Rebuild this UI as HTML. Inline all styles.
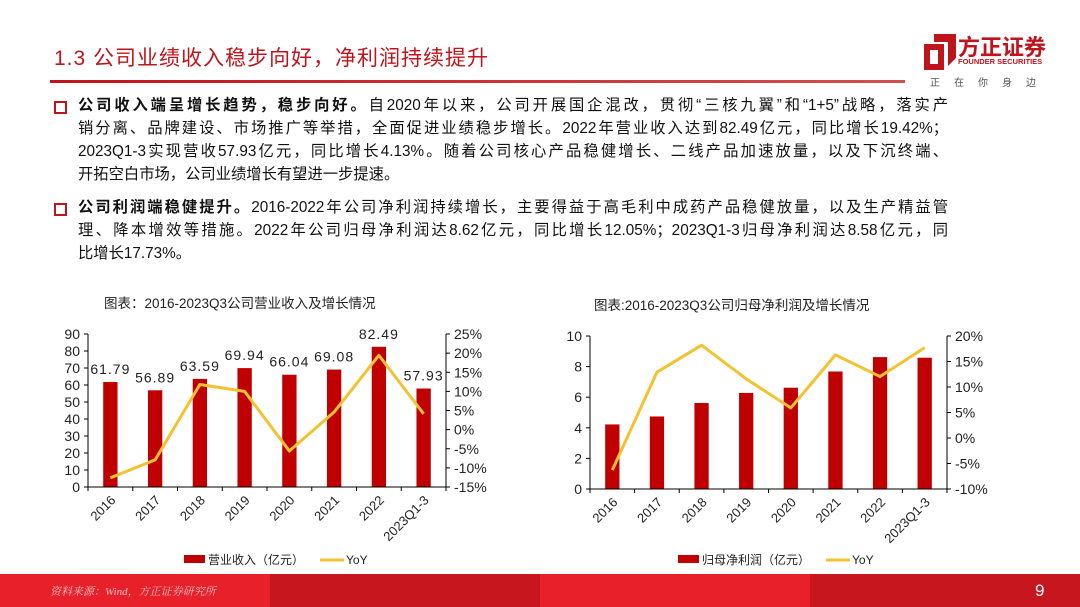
<!DOCTYPE html>
<html><head><meta charset="utf-8"><style>
body{margin:0;width:1080px;height:607px;background:#fff;position:relative;overflow:hidden;font-family:"Liberation Sans","Noto Sans CJK SC",sans-serif;}
.abs{position:absolute}
.title{left:54px;top:42px;font-size:21px;color:#c0141c;letter-spacing:1px}
.para{left:78px;font-size:15.3px;line-height:23px;color:#111;width:870px}
.para b{font-weight:bold}
.ln{display:block;white-space:nowrap;text-align:justify;text-align-last:justify;width:870px}
.ln.last{text-align-last:left}
.sq{width:9px;height:9px;border:2px solid #c0141c;left:54px}
</style></head><body>
<div class="abs title">1.3 公司业绩收入稳步向好，净利润持续提升</div>
<div class="abs" style="left:50px;top:80px;width:855px;height:3px;background:linear-gradient(90deg,#c0141c,#d05050)"></div>
<div class="abs" style="left:918px;top:28px;width:140px;height:70px">
<svg width="40" height="40" style="position:absolute;left:2px;top:4px"><path d="M14 2 H36 V26 L28 34 V10 H14Z M4 12 H24 V38 H4Z M10 18 V32 H18 V18Z" fill="#c0141c"/></svg>
<div class="abs" style="left:40px;top:2px;font-size:22px;font-weight:bold;color:#c0141c;white-space:nowrap">方正证券</div>
<div class="abs" style="left:40px;top:29px;font-size:7.5px;font-weight:bold;color:#c0141c;white-space:nowrap">FOUNDER SECURITIES</div>
<div class="abs" style="left:12px;top:46px;font-size:10px;color:#555;letter-spacing:14px;white-space:nowrap">正在你身边</div>
</div>
<div class="abs sq" style="top:101px"></div>
<div class="abs para" style="top:94px">
<span class="ln"><b>公司收入端呈增长趋势，稳步向好。</b>自2020年以来，公司开展国企混改，贯彻“三核九翼”和“1+5”战略，落实产</span>
<span class="ln">销分离、品牌建设、市场推广等举措，全面促进业绩稳步增长。2022年营业收入达到82.49亿元，同比增长19.42%；</span>
<span class="ln">2023Q1-3实现营收57.93亿元，同比增长4.13%。随着公司核心产品稳健增长、二线产品加速放量，以及下沉终端、</span>
<span class="ln last">开拓空白市场，公司业绩增长有望进一步提速。</span></div>
<div class="abs sq" style="top:203px"></div>
<div class="abs para" style="top:196px">
<span class="ln"><b>公司利润端稳健提升。</b>2016-2022年公司净利润持续增长，主要得益于高毛利中成药产品稳健放量，以及生产精益管</span>
<span class="ln">理、降本增效等措施。2022年公司归母净利润达8.62亿元，同比增长12.05%；2023Q1-3归母净利润达8.58亿元，同</span>
<span class="ln last">比增长17.73%。</span></div>
<svg class="abs" style="left:0;top:0" width="1080" height="607" id="charts"></svg>
<div class="abs" style="left:0;top:574px;width:1080px;height:33px;background:linear-gradient(90deg,#e8202a 0 25%,#c8161e 25% 50%,#e8202a 50% 75%,#c8161e 75%)"></div>
<div class="abs" style="left:50px;top:583px;font-size:11px;font-style:italic;color:#f3c0c0;font-family:'Liberation Serif','Noto Serif CJK SC',serif">资料来源：Wind，方正证券研究所</div>
<div class="abs" style="left:1035px;top:581px;font-size:17px;color:#fff">9</div>
<script>
const cats=["2016","2017","2018","2019","2020","2021","2022","2023Q1-3"];
const revenue=[61.79,56.89,63.59,69.94,66.04,69.08,82.49,57.93];
const revYoY=[-12.6,-7.9,11.8,10.0,-5.6,4.6,19.42,4.13];
const profit=[4.22,4.74,5.62,6.28,6.62,7.68,8.62,8.58];
const profYoY=[-6.3,12.9,18.2,11.6,5.9,16.3,12.05,17.73];
const revTicks=[0,10,20,30,40,50,60,70,80,90];
const revPctTicks=[-15,-10,-5,0,5,10,15,20,25];
const profTicks=[0,2,4,6,8,10];
const profPctTicks=[-10,-5,0,5,10,15,20];
const svg=document.getElementById('charts');
const NS='http://www.w3.org/2000/svg';
function mk(t,a,txt){const e=document.createElementNS(NS,t);for(const k in a)e.setAttribute(k,a[k]);if(txt!==undefined)e.textContent=txt;svg.appendChild(e);return e;}
function chart(o){
 const {x0,x1,y0,y1,lmin,lmax,rmin,rmax,bars,line,lt,rt,labels,title,tx,legend,lx}=o;
 const n=cats.length,bw=(x1-x0)/n;
 const yl=v=>y0-(v-lmin)/(lmax-lmin)*(y0-y1);
 const yr=v=>y0-(v-rmin)/(rmax-rmin)*(y0-y1);
 const xc=i=>x0+bw*(i+0.5);
 let t=mk('text',{x:tx,y:y1-26,'font-size':13.5,fill:'#222','font-family':'Liberation Sans,Noto Sans CJK SC,sans-serif'},title);
 
 bars.forEach((v,i)=>{const r=mk('rect',{x:xc(i)-bw*0.16,y:yl(v),width:bw*0.32,height:y0-yl(v),fill:'#c00000'});
  
  if(labels){const l=mk('text',{x:xc(i),y:yl(v)-8,'font-size':14,'text-anchor':'middle',fill:'#222','letter-spacing':'1'},v.toFixed(2));
   }});
 mk('line',{x1:x0,y1:y0,x2:x1,y2:y0,stroke:'#000'});
 mk('line',{x1:x0,y1:y1,x2:x0,y2:y0,stroke:'#000'});
 mk('line',{x1:x1,y1:y1,x2:x1,y2:y0,stroke:'#000'});
 for(let i=0;i<=n;i++)mk('line',{x1:x0+bw*i,y1:y0,x2:x0+bw*i,y2:y0+4,stroke:'#000'});
 lt.forEach(v=>{mk('line',{x1:x0-4,y1:yl(v),x2:x0,y2:yl(v),stroke:'#000'});
  const e=mk('text',{x:x0-8,y:yl(v)+5,'font-size':14,'text-anchor':'end',fill:'#222'},v);});
 rt.forEach(v=>{mk('line',{x1:x1,y1:yr(v),x2:x1+4,y2:yr(v),stroke:'#000'});
  const e=mk('text',{x:x1+8,y:yr(v)+5,'font-size':14,fill:'#222'},v+'%');});
 cats.forEach((c,i)=>{const e=mk('text',{x:xc(i)+6,y:y0+14,'font-size':13,'text-anchor':'end',fill:'#222',transform:`rotate(-45 ${xc(i)+6} ${y0+14})`},c);
  });
 const p=mk('polyline',{points:line.map((v,i)=>xc(i)+','+yr(v)).join(' '),fill:'none',stroke:'#f2c230','stroke-width':3,'stroke-linejoin':'round'});
 
 const ly=560;
 let r=mk('rect',{x:lx,y:ly-5,width:21,height:8,fill:'#c00000'});
 let e=mk('text',{x:lx+24,y:ly+4,'font-size':12,fill:'#222'},legend);
 const l2=lx+(legend.length*12)+40;
 let ln=mk('line',{x1:l2,y1:ly,x2:l2+24,y2:ly,stroke:'#f2c230','stroke-width':3});
 e=mk('text',{x:l2+26,y:ly+4,'font-size':12,fill:'#222'},'YoY');
}
chart({x0:88,x1:446,y0:487,y1:334,lmin:0,lmax:90,rmin:-15,rmax:25,bars:revenue,line:revYoY,lt:revTicks,rt:revPctTicks,labels:true,title:'图表：2016-2023Q3公司营业收入及增长情况',tx:104,legend:'营业收入（亿元）',lx:184});
chart({x0:590,x1:947,y0:489,y1:336,lmin:0,lmax:10,rmin:-10,rmax:20,bars:profit,line:profYoY,lt:profTicks,rt:profPctTicks,labels:false,title:'图表:2016-2023Q3公司归母净利润及增长情况',tx:594,legend:'归母净利润（亿元）',lx:678});
</script>
</body></html>
